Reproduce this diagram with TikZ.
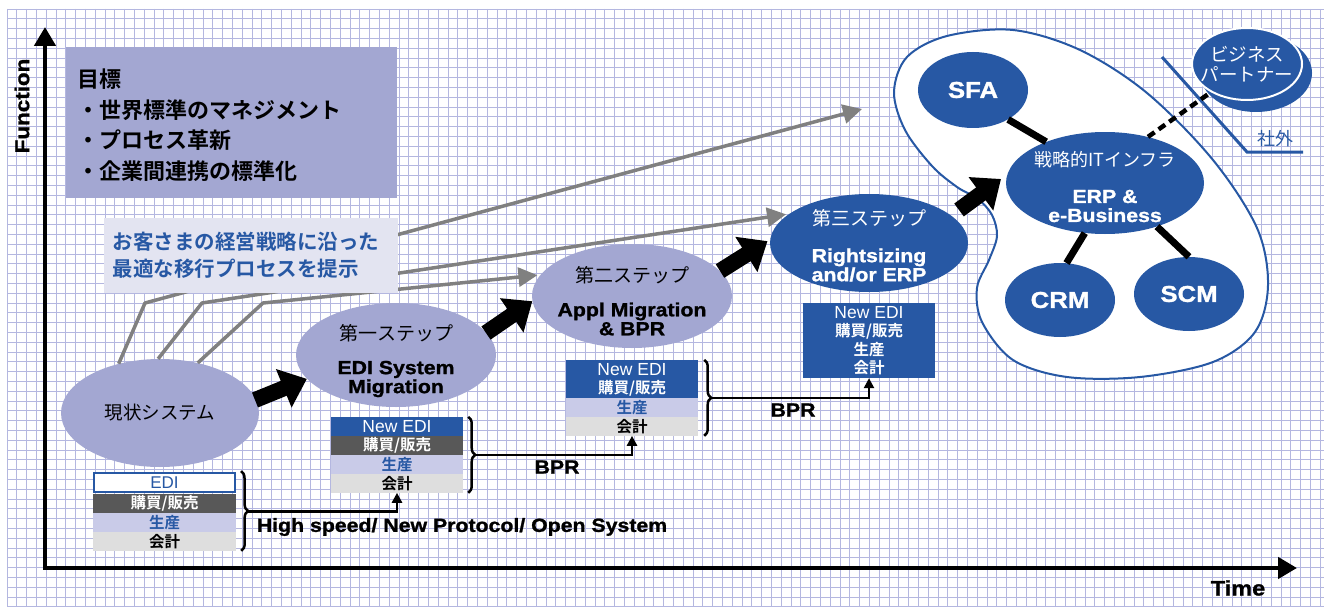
\documentclass[tikz,border=0pt]{standalone}
\usepackage{fontspec}
\setmainfont{Liberation Sans}
\newfontfamily\heavy{Liberation Sans}[BoldFeatures={FakeBold=1.2, FakeStretch=1.12}]
\newfontfamily\jp{Noto Sans CJK JP}[BoldFont={Noto Sans CJK JP Bold}]
\usepackage{tikz}
\usetikzlibrary{positioning, arrows.meta, shapes.geometric, calc, decorations.pathreplacing}
\definecolor{gridblue}{RGB}{180,183,224}
\definecolor{lavender}{RGB}{163,167,210}
\definecolor{paleblue}{RGB}{227,228,241}
\definecolor{deepblue}{RGB}{39,88,164}
\definecolor{rowgray}{RGB}{88,88,88}
\definecolor{rowlav}{RGB}{201,203,232}
\definecolor{rowlight}{RGB}{222,222,222}
\definecolor{arrowgray}{RGB}{128,128,128}
\newcommand{\fsz}[2]{\fontsize{#1}{#2}\selectfont}

\begin{document}
\begin{tikzpicture}[x=1pt, y=-1pt,
  gridline/.style={draw=gridblue, line width=0.9pt},
  ell/.style={ellipse, inner sep=0pt, fill=lavender},
  darkell/.style={ellipse, inner sep=0pt, fill=deepblue},
  steptitle/.style={font=\jp\fsz{19}{21}},
  stepbody/.style={font=\heavy\bfseries\fsz{19}{19}, align=center},
  boxname/.style={font=\heavy\bfseries\fsz{23}{24}, text=white},
  row/.style={minimum width=132pt, minimum height=18.6pt, inner sep=0pt, font=\jp\bfseries\fsz{15.5}{16}},
  rowedi/.style={row, fill=white, draw=deepblue, line width=2pt, text=deepblue, font=\fsz{17}{18}},
  rownew/.style={row, fill=deepblue, text=white, font=\fsz{17.5}{18}},
  rowbuy/.style={row, fill=rowgray, text=white},
  rowmake/.style={row, fill=rowlav, text=deepblue},
  rowacc/.style={row, fill=rowlight, text=black},
  brace/.style={decorate, decoration={brace, amplitude=7pt}, line width=2.5pt},
  link/.style={-{Triangle[length=10pt, width=10pt]}, line width=2.5pt},
  grayarr/.style={draw=arrowgray, line width=3.5pt, line join=round, -{Triangle[length=19pt, width=19pt]}},
  bigarrow/.style={line width=16pt, -{Triangle[length=25pt, width=40pt]}},
  linkname/.style={font=\heavy\bfseries\fsz{19}{20}}]

  % paper and grid
  \fill[white] (0,0) rectangle (1324,607);
  \useasboundingbox (0,0) rectangle (1324,607);
  \foreach \gx in {0,...,134}
    \draw[gridline] ({7+9.8*\gx},9) -- ({7+9.8*\gx},607);
  \foreach \gy in {0,...,61}
    \draw[gridline] (7,{9+9.8*\gy}) -- (1324,{9+9.8*\gy});

  % IT infrastructure area
  \draw[deepblue, line width=2pt, fill=white] plot[smooth cycle, tension=0.55] coordinates {
    (1013,30) (1080,50) (1147,93) (1213,160) (1257,228) (1268,285) (1255,332)
    (1213,362) (1140,377) (1067,377) (1013,360) (982,322) (977,288) (989,260)
    (997,236) (992,215) (978,199) (957,187) (932,166) (905,130) (894,92)
    (907,57) (947,36)};

  % business partner and outside line
  \draw[deepblue, line width=3pt] (1162,57) -- (1247,152) -- (1303,152);
  \node[font=\jp\fsz{18}{18}, text=deepblue] (outside) at (1275,139) {社外};
  \node[darkell, minimum width=112pt, minimum height=78pt] (bpback) at (1256,73) {};
  \node[darkell, draw=white, line width=2pt, minimum width=110pt, minimum height=72pt] (bp) at (1247,64) {};
  \node[font=\jp\fsz{18.5}{20}, text=white, align=center] (bpt) at (bp) {ビジネス\\パートナー};

  % goal box
  \node[fill=lavender, minimum width=331pt, minimum height=151pt, inner sep=0pt] (goal) at (231.5,122.5) {};
  \node[font=\jp\bfseries\fsz{22}{30.5}, align=left, text width=309pt] (goalt) at (231.5,125) {目標\\・世界標準のマネジメント\\・プロセス革新\\・企業間連携の標準化};

  % steps
  \node[ell, minimum width=198pt, minimum height=108pt] (cur) at (160,413) {};
  \node[font=\jp\fsz{18.5}{20}] (curt) at (cur) {現状システム};
  \node[ell, minimum width=200pt, minimum height=104pt] (s1) at (396,355) {};
  \node[steptitle] (s1t) at ($(s1)+(0,-22)$) {第一ステップ};
  \node[stepbody] (s1b) at ($(s1)+(0,24)$) {EDI System\\Migration};
  \node[ell, minimum width=200pt, minimum height=104pt] (s2) at (632,296) {};
  \node[steptitle] (s2t) at ($(s2)+(0,-21)$) {第二ステップ};
  \node[stepbody] (s2b) at ($(s2)+(0,23)$) {Appl Migration\\\& BPR};
  \node[darkell, minimum width=198pt, minimum height=98pt] (s3) at (869,243) {};
  \node[steptitle, text=white] (s3t) at ($(s3)+(0,-25)$) {第三ステップ};
  \node[stepbody, text=white] (s3b) at ($(s3)+(0,22)$) {Rightsizing\\and/or ERP};

  % gray arrows
  \coordinate (c1) at (145,303);
  \coordinate (c2) at (202,303);
  \coordinate (c3) at (263,303);
  \coordinate (g1) at (862,109);
  \draw[grayarr] (cur.130) -- (c1) -- (g1);
  \draw[grayarr, shorten >=3pt] (cur.92) -- (c2) -- (s3.160);
  \draw[grayarr, shorten >=3pt] (cur.53) -- (c3) -- (s2.167);

  % proposal box
  \node[fill=paleblue, minimum width=294pt, minimum height=75pt, inner sep=0pt] (offer) at (250.5,255.5) {};
  \node[font=\jp\bfseries\fsz{20.5}{27}, text=deepblue, align=left, text width=276pt] (offert) at (offer) {お客さまの経営戦略に沿った\\最適な移行プロセスを提示};

  % black step arrows
  \coordinate (t1) at (255,400);
  \coordinate (t2) at (486,333);
  \coordinate (t3) at (720,271);
  \coordinate (t4) at (959,210);
  \draw[bigarrow] (t1) -- (s1.195);
  \draw[bigarrow] (t2) -- (s2.183);
  \draw[bigarrow, shorten >=3pt] (t3) -- (s3.178);
  \coordinate (it-in) at (1001,179);
  \draw[bigarrow] (t4) -- (it-in);

  % system stacks
  \node[rowedi, minimum width=141pt] (k0a) at (164.5,482.5) {EDI};
  \node[rowbuy, minimum width=143pt, below=1pt of k0a] (k0b) {購買/販売};
  \node[rowmake, minimum width=143pt, below=0pt of k0b] (k0c) {生産};
  \node[rowacc, minimum width=143pt, below=0pt of k0c] (k0d) {会計};

  \node[rownew] (k1a) at (397,426.3) {New EDI};
  \node[rowbuy, below=0pt of k1a] (k1b) {購買/販売};
  \node[rowmake, below=0pt of k1b] (k1c) {生産};
  \node[rowacc, below=0pt of k1c] (k1d) {会計};

  \node[rownew] (k2a) at (632,369.3) {New EDI};
  \node[rownew, font=\jp\bfseries\fsz{15.5}{16}, below=0pt of k2a] (k2b) {購買/販売};
  \node[rowmake, below=0pt of k2b] (k2c) {生産};
  \node[rowacc, below=0pt of k2c] (k2d) {会計};

  \node[fill=deepblue, text=white, minimum width=132pt, minimum height=75pt, align=center, inner sep=0pt,
        font=\jp\bfseries\fsz{15.5}{18.5}] (k3) at (869,340.5) {{\mdseries\rmfamily\fsz{17.5}{18.5}New EDI}\\購買/販売\\生産\\会計};

  % braces and links
  \draw[brace] ($(k0a.north east)+(5,-1)$) -- ($(k0d.south east)+(5,0)$);
  \draw[brace] ($(k1a.north east)+(5,0)$) -- ($(k1d.south east)+(5,0)$);
  \draw[brace] ($(k2a.north east)+(6,0)$) -- ($(k2d.south east)+(6,0)$);
  \coordinate (b0) at ($(k0a.north east)!0.5!(k0d.south east)+(12,0)$);
  \coordinate (b1) at ($(k1a.north east)!0.5!(k1d.south east)+(12,0)$);
  \coordinate (b2) at ($(k2a.north east)!0.5!(k2d.south east)+(13,0)$);
  \draw[link] (b0) -| (k1d.south);
  \draw[link] (b1) -| (k2d.south);
  \draw[link] (b2) -| (k3.south);
  \node[linkname] (hs) at (462,527) {High speed/ New Protocol/ Open System};
  \node[linkname] (bpr1) at (557,467) {BPR};
  \node[linkname] (bpr2) at (793,410) {BPR};

  % strategic IT infrastructure
  \node[darkell, minimum width=110pt, minimum height=76pt] (sfa) at (973,90) {};
  \node[boxname] (sfat) at (sfa) {SFA};
  \node[darkell, minimum width=198pt, minimum height=102pt] (it) at (1105,183) {};
  \node[font=\jp\fsz{18}{20}, text=white] (itt) at ($(it)+(0,-23)$) {戦略的ITインフラ};
  \node[stepbody, text=white] (itb) at ($(it)+(0,23)$) {ERP \&\\e-Business};
  \node[darkell, minimum width=110pt, minimum height=74pt] (crm) at (1060,300) {};
  \node[boxname] (crmt) at (crm) {CRM};
  \node[darkell, minimum width=110pt, minimum height=74pt] (scm) at (1189,294) {};
  \node[boxname] (scmt) at (scm) {SCM};
  \draw[line width=7pt] (sfa.-40) -- (it.145);
  \draw[line width=7pt] (it.-112) -- (crm.80);
  \draw[line width=7pt] (it.-40) -- (scm.north);
  \draw[line width=4.5pt, dash pattern=on 8pt off 5pt] (it.47) -- (bp.218);

  % axes
  \coordinate (o) at (45,568);
  \coordinate (ytop) at (45,27);
  \coordinate (xend) at (1297,568);
  \draw[line width=4.5pt, line join=miter, {Triangle[length=19pt, width=21pt]}-{Triangle[length=19pt, width=21pt]}] (ytop) -- (o) -- (xend);
  \node[rotate=90, font=\heavy\bfseries\fsz{20}{20}] (fn) at (22,106) {Function};
  \node[font=\heavy\bfseries\fsz{21}{22}] (tm) at (1238,588) {Time};
\end{tikzpicture}
\end{document}
